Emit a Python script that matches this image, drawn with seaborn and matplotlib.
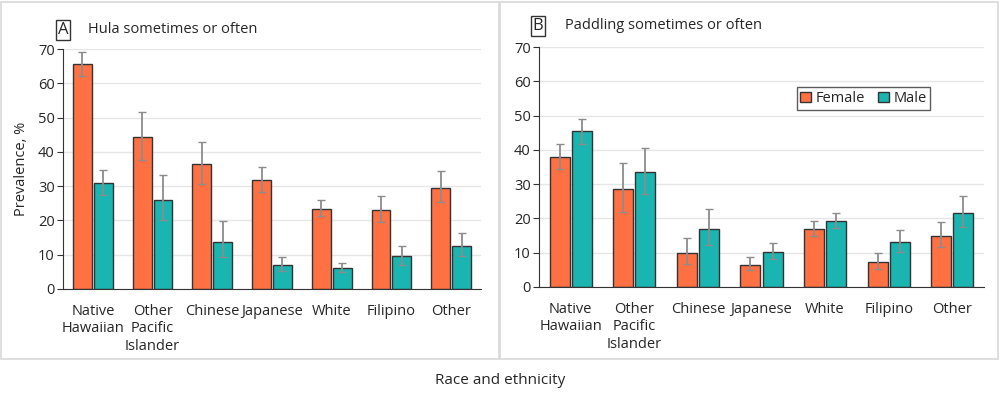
import pandas as pd
import numpy as np
import matplotlib.pyplot as plt
import seaborn as sns
from matplotlib.patches import Rectangle, Patch

# Data
groups = ['Native\nHawaiian', 'Other\nPacific\nIslander', 'Chinese', 'Japanese',
          'White', 'Filipino', 'Other']
sexes = ['Female', 'Male']

hula_female = [65.5, 44.3, 36.5, 31.8, 23.4, 23.0, 29.6]
hula_female_lo = [62.0, 37.5, 30.5, 28.3, 21.3, 19.5, 25.3]
hula_female_hi = [69.0, 51.5, 43.0, 35.5, 26.0, 27.0, 34.3]
hula_male = [31.0, 26.0, 13.7, 7.0, 6.1, 9.5, 12.6]
hula_male_lo = [27.5, 20.0, 9.3, 5.2, 5.0, 7.1, 9.6]
hula_male_hi = [34.7, 33.2, 19.8, 9.3, 7.6, 12.6, 16.4]

paddle_female = [37.8, 28.6, 10.0, 6.5, 17.0, 7.3, 15.0]
paddle_female_lo = [34.3, 22.0, 6.8, 5.0, 15.0, 5.3, 11.8]
paddle_female_hi = [41.6, 36.2, 14.3, 8.7, 19.2, 10.0, 18.9]
paddle_male = [45.4, 33.6, 16.9, 10.3, 19.3, 13.0, 21.7]
paddle_male_lo = [41.6, 27.0, 12.3, 8.1, 17.1, 10.2, 17.6]
paddle_male_hi = [49.1, 40.6, 22.7, 12.9, 21.5, 16.6, 26.4]

colors = {'Female': '#FF7043', 'Male': '#1AB5B0'}


def make_df(f, flo, fhi, m, mlo, mhi):
    return pd.DataFrame({
        'group': groups * 2,
        'sex': ['Female'] * 7 + ['Male'] * 7,
        'value': f + m,
        'lo': flo + mlo,
        'hi': fhi + mhi,
    })


hula = make_df(hula_female, hula_female_lo, hula_female_hi,
               hula_male, hula_male_lo, hula_male_hi)
paddle = make_df(paddle_female, paddle_female_lo, paddle_female_hi,
                 paddle_male, paddle_male_lo, paddle_male_hi)

sns.set_style('white')
plt.rcParams['font.family'] = ['Open Sans', 'DejaVu Sans']

fig = plt.figure(figsize=(10, 3.94), dpi=100)

# panel borders
for x0 in (0.001, 0.5):
    fig.patches.append(Rectangle((x0, 0.09), 0.498, 0.906, transform=fig.transFigure,
                                 fill=False, edgecolor='#d9d9d9', linewidth=1.2))

axA = fig.add_axes([0.063, 0.2665, 0.418, 0.609])
axB = fig.add_axes([0.539, 0.2716, 0.445, 0.609])


def draw(ax, df, letter, title, label_x, label_y):
    sns.barplot(data=df, x='group', y='value', hue='sex', order=groups,
                hue_order=sexes, palette=colors, saturation=1, width=0.7, gap=0.1,
                errorbar=None, edgecolor='#333333', linewidth=1.0,
                legend=False, ax=ax)
    for container, sex in zip(ax.containers, sexes):
        sub = df[df['sex'] == sex].set_index('group').loc[groups]
        xs = [p.get_x() + p.get_width() / 2 for p in container]
        yerr = np.vstack([sub['value'] - sub['lo'], sub['hi'] - sub['value']])
        ax.errorbar(xs, sub['value'], yerr=yerr, fmt='none', ecolor='#8c8c8c',
                    elinewidth=1.3, capsize=3, capthick=1.0, zorder=5)
    ax.set_ylim(0, 70)
    ax.set_yticks(range(0, 71, 10))
    ax.set_xlim(-0.5, 6.5)
    ax.yaxis.grid(True, color='#e6e6e6', linewidth=1.0)
    ax.set_axisbelow(True)
    for s in ('top', 'right'):
        ax.spines[s].set_visible(False)
    ax.spines['left'].set_color('#333333')
    ax.spines['bottom'].set_color('#333333')
    ax.tick_params(axis='y', length=4, color='#333333', labelsize=10.5, pad=2, left=True)
    ax.tick_params(axis='x', length=0, labelsize=10.5, pad=11)
    ax.set_xlabel('')
    for t in ax.get_xticklabels():
        t.set_linespacing(1.2)
        t.set_verticalalignment('top')
    ax.text(label_x, label_y, letter, transform=ax.transAxes, fontsize=12,
            ha='center', va='center',
            bbox=dict(boxstyle='square,pad=0.1', fc='white', ec='#333333', lw=1.0))
    ax.text(label_x + 0.06, label_y, title, transform=ax.transAxes, fontsize=10.5,
            ha='left', va='center')


draw(axA, hula, 'A', 'Hula sometimes or often', 0.0, 1.08)
draw(axB, paddle, 'B', 'Paddling sometimes or often', -0.002, 1.088)

axA.set_ylabel('Prevalence, %', fontsize=10.5, labelpad=6)
axB.set_ylabel('')

handles = [Patch(facecolor=colors[s], edgecolor='#333333', label=s) for s in sexes]
leg = axB.legend(handles=handles, loc='upper left', bbox_to_anchor=(0.579, 0.832),
                 ncol=2, frameon=True, fancybox=False, fontsize=10.5,
                 handlelength=0.75, handleheight=0.75, handletextpad=0.3,
                 columnspacing=0.9, borderpad=0.25, borderaxespad=0)
leg.get_frame().set_edgecolor('#333333')
leg.get_frame().set_linewidth(1.0)

fig.text(0.5, 0.035, 'Race and ethnicity', ha='center', va='center', fontsize=11)

fig.savefig('out.png', dpi=100)
